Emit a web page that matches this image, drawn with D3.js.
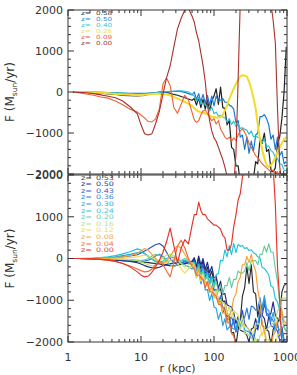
<!DOCTYPE html>
<html><head><meta charset="utf-8">
<script src="https://cdn.jsdelivr.net/npm/d3@7"></script>
<style>html,body{margin:0;padding:0;background:#fff;} svg{display:block;}</style>
</head><body>
<svg id="chart" width="297" height="375"></svg>
<script>
// radius grid (kpc)
const rGrid = [1.17,1.41,1.78,2.24,2.82,3.55,4.47,5.62,7.08,8.91,10.0,11.2,12.6,14.1,15.8,17.8,20.0,22.4,25.1,28.2,31.6,35.5,39.8,44.7,50.1,
53.7,57.5,61.7,66.1,70.8,75.9,81.3,87.1,93.3,100,107,115,123,132,141,151,162,174,186,200,214,229,245,263,282,302,324,347,372,398,427,457,490,525,562,603,646,692,741,794,851,912,977];

// ---- top panel ----
const topLabels = ["0.58","0.50","0.40","0.26","0.09","0.00"];
const topColors = ["#222222","#1a7ad4","#22c0d4","#f2dc26","#f06030","#a8302a"];
const topText   = ["#333333","#2a86d6","#38c6d8","#f0e050","#f0603a","#a83a30"];
const top_z058 = [0,-5,-10,-20,-30,-45,-60,-80,-90,-95,-90,-80,-60,-40,-20,-5,0,-10,-30,-60,-80,-110,-140,-170,-200,
-160,-320,-140,-380,-180,-420,-200,-460,-220,-100,80,-300,120,-380,-400,-800,-700,-1350,-1400,-1800,
-1800,-2200,-2100,-2250,-2150,-2200,-2100,-2100,-1700,-1750,-1150,-1250,-1000,-1450,-1400,-1900,-1950,-1850,-1250,-1100,-650,0,1100];
const top_z050 = [0,0,0,-5,-10,-15,-20,-25,-30,-35,-35,-30,-25,-20,-15,-10,-5,0,10,15,20,10,-10,-40,-70,
0,-180,-40,-240,-60,-280,-80,-320,-100,-340,-100,-220,-200,-160,-250,-250,-320,-350,-420,-750,
-700,-1100,-1050,-1400,-1100,-1500,-1200,-1450,-1050,-1000,-600,-600,-550,-650,-800,-1150,-1050,-1400,-1100,-1550,-1450,-1750,-1700];
const top_z040 = [0,0,0,-5,-10,-15,-20,-30,-40,-50,-50,-45,-40,-30,-20,-10,0,10,20,20,25,30,20,0,-60,
-100,-220,-130,-290,-270,-310,-350,-450,-370,-530,-490,-590,-570,-610,-630,-730,-650,-790,-710,-850,
-770,-890,-870,-910,-930,-1030,-950,-1090,-1070,-1110,-1120,-1230,-1150,-1330,-1310,-1430,-1470,-1590,-1620,-1750,-1770,-1910,-1920];
const top_z026 = [0,0,-5,-10,-20,-30,-50,-60,-70,-80,-80,-70,-60,-50,-40,-40,-50,-60,-80,-120,-160,-200,-240,-290,-340,
-400,-440,-470,-500,-500,-520,-550,-580,-600,-610,-620,-620,-610,-560,-450,-330,-170,-40,80,200,
300,380,410,400,380,250,80,-150,-400,-800,-1150,-1400,-1620,-1780,-1830,-1780,-1700,-1600,-1450,-1350,-1250,-1150,-1100];
const top_z009 = [0,-20,-50,-80,-120,-150,-220,-310,-420,-490,-560,-630,-720,-730,-660,-420,200,340,150,-380,-520,-300,-80,-200,-500,
-680,-740,-700,-560,-460,-440,-520,-620,-700,-650,-780,-700,-900,-1000,-1100,-1150,-1100,-1200,-1120,-1180,
-1050,-950,-900,-980,-1100,-1250,-1350,-1450,-1550,-1600,-1680,-1750,-1800,-1850,-1900,-1950,-1900,-2000,-1950,-2050,-2100,-2100,-2150];
const top_z000 = [0,-10,-20,-40,-70,-105,-140,-220,-360,-530,-800,-1020,-1050,-1020,-780,-480,-50,350,640,1100,1540,1800,2000,2040,1850,
1700,1450,1250,950,650,250,-300,-700,-950,-1120,-1200,-1350,-1500,-1650,-1830,-2050,-2250,-2350,-2300,-1500,
300,2200,2700,2800,2800,2800,2800,2800,2800,2800,2800,2800,2800,2800,2800,2150,1750,1200,-390,-1800,-2300,-2500,-2500];
const topSeries = [top_z058, top_z050, top_z040, top_z026, top_z009, top_z000];
const topWidths = [1.2, 1.2, 1.1, 2, 1.1, 1.1];

// ---- bottom panel ----
const botLabels = ["0.53","0.50","0.43","0.36","0.30","0.24","0.20","0.16","0.12","0.08","0.04","0.00"];
const botColors = ["#2a2a2a","#1e2c8c","#2a4ec8","#2a78dc","#22a2e2","#20c2d6","#66cc9e","#b8e070","#f0dc50","#f6a030","#f06a3c","#e63228"];
const botText   = ["#444444","#2a3a9a","#3a5ad0","#3a84de","#38a6e0","#38c4dc","#70d0b0","#bce488","#eedc68","#f2b050","#f07848","#e84038"];
const bot_z053 = [0,0,-5,-10,-20,-30,-40,-50,-60,-70,-80,-90,-100,-110,-120,-130,-150,-160,-170,-180,-160,-140,-120,-100,-100,
0,-200,0,-250,-50,-350,-200,-450,-300,-600,-420,-780,-720,-1030,-1020,-1380,-1370,-1780,-1770,-2080,
-1700,-1500,-900,-700,-200,-600,-150,-800,-850,-1400,-1100,-1600,-1650,-1700,-1750,-2100,-1700,-1600,-1550,-1400,-800,-650,-600];
const bot_z050 = [0,0,-5,-10,-15,-25,-35,-50,-70,-100,-130,-170,-200,-220,-230,-210,-170,-140,-120,-110,-100,-110,-120,-100,-60,
20,-180,60,-160,0,-260,-90,-340,-190,-460,-460,-710,-540,-860,-840,-1110,-1140,-1160,-1290,-1560,
-1390,-1710,-1740,-1760,-1840,-2010,-1690,-1660,-1440,-1710,-1340,-1360,-1440,-1710,-1390,-1310,-1040,-1360,-1440,-1460,-1640,-1960,-1940];
const bot_z043 = [0,0,0,0,5,10,20,40,60,90,130,180,230,280,330,360,300,150,0,-100,-150,-120,-80,-100,-150,
-40,-310,-90,-360,-140,-460,-290,-610,-440,-760,-740,-1010,-1040,-1310,-1140,-1460,-1440,-1410,-1540,-1760,
-1490,-1510,-1240,-1560,-1640,-1710,-1790,-1960,-1690,-1660,-1390,-1360,-1090,-1310,-1340,-1610,-1640,-1660,-1740,-1960,-1940,-2160,-1990];
const bot_z036 = [0,0,0,-5,-10,-15,-20,-30,-40,-50,-60,-60,-40,0,60,100,50,-50,-150,-180,-150,-100,-60,-80,-120,
-90,-120,-140,-160,-240,-310,-340,-410,-540,-760,-790,-1060,-890,-1210,-1240,-1310,-1390,-1660,-1440,-1760,
-1540,-1510,-1490,-1410,-1190,-1460,-1140,-1160,-1240,-1210,-940,-1260,-990,-1360,-1390,-1410,-1490,-1760,-1540,-1860,-1690,-1960,-1940];
const bot_z030 = [0,0,0,5,10,20,40,70,100,140,150,120,60,0,-50,-80,-100,-80,-50,-30,-50,-100,-150,-200,-250,
-240,-460,-290,-610,-440,-760,-740,-1010,-840,-1160,-1190,-1460,-1290,-1610,-1440,-1710,-1640,-1660,-1690,-1710,
-1440,-1660,-1390,-1710,-1740,-1760,-1840,-1860,-1590,-1560,-1240,-1160,-890,-1210,-1240,-1510,-1290,-1610,-1640,-1710,-1790,-2010,-1990];
const bot_z024 = [0,0,5,10,20,40,70,110,160,230,200,120,40,-20,-80,-100,-60,0,40,20,-20,-60,-40,-80,-120,
-90,-310,-140,-410,-240,-510,-340,-610,-440,-660,-390,-360,-40,-60,210,40,310,90,360,140,
340,290,310,240,260,190,210,140,110,40,10,-210,-240,-310,-390,-660,-690,-960,-1040,-1260,-1340,-1660,-1740];
const bot_z020 = [0,0,0,0,0,-5,-10,-20,-30,-40,-50,-30,0,60,100,80,20,-60,-150,-200,-150,-50,0,-50,-120,
-150,-350,-200,-450,-300,-500,-450,-650,-500,-700,-550,-800,-650,-850,-650,-650,-450,-700,-500,-500,
-300,-350,-350,-300,-100,-300,-50,-50,-50,-150,100,100,300,150,350,150,150,-250,-550,-1050,-1250,-1650,-1750];
const bot_z016 = [0,0,0,0,0,-5,-10,-20,-30,-50,-80,-120,-150,-180,-150,-80,20,80,100,60,-20,-120,-200,-150,-100,
-150,-350,-350,-400,-450,-600,-600,-650,-700,-900,-750,-1000,-1000,-1050,-1100,-1300,-1150,-1400,-1400,-1450,
-1500,-1700,-1550,-1800,-1800,-1850,-1850,-2050,-1900,-2100,-1850,-1800,-1750,-1700,-1650,-1600,-1550,-1500,-1250,-1200,-950,-950,-950];
const bot_z012 = [0,0,0,0,0,0,5,10,20,40,60,80,60,20,-30,-80,-120,-100,-50,0,-100,-250,-350,-250,-150,
-250,-450,-300,-550,-400,-650,-650,-700,-750,-950,-800,-1050,-1050,-1250,-1100,-1350,-1350,-1400,-1250,-1300,
-1350,-1550,-1400,-1650,-1650,-1700,-1750,-1800,-1550,-1550,-1600,-1850,-1650,-1950,-1950,-2000,-2050,-2050,-1850,-1800,-1550,-1550,-1600];
const bot_z008 = [0,0,0,0,5,10,20,40,70,120,180,240,200,100,0,-80,-120,-60,50,200,300,250,100,-50,-150,
-200,-400,-250,-500,-500,-550,-600,-800,-650,-900,-950,-1000,-1100,-1300,-1300,-1550,-1350,-1250,-950,-850,
-550,-450,-150,-150,50,-100,100,-150,-300,-750,-1050,-1550,-1750,-2050,-2150,-2150,-1850,-1750,-1450,-1450,-1250,-1500,-1550];
const bot_z004 = [0,0,-5,-10,-20,-40,-70,-120,-180,-250,-290,-320,-310,-250,-150,-50,-150,-300,-440,-100,300,440,250,0,-200,
-250,-400,-400,-450,-500,-700,-550,-800,-800,-850,-900,-1100,-1100,-1150,-1250,-1500,-1550,-1800,-1850,-2100,
-2200,-2300,-2200,-2250,-2300,-2200,-2300,-2250,-2300,-2200,-2250,-2300,-2200,-2200,-2300,-2200,-2300,-2200,-2250,-2300,-2200,-2250,-2300];
const bot_z000 = [0,0,-5,-10,-20,-40,-70,-120,-200,-320,-400,-440,-420,-330,-200,-50,150,400,730,300,-100,250,450,350,800,
1050,1050,1350,1150,1050,1050,950,900,850,800,800,750,700,550,500,200,200,350,750,1050,
1400,1550,1950,2200,2800,2800,2800,2800,2800,2800,2800,2800,2800,2800,2800,2600,2200,1300,-200,-1000,-2100,-2400,-2400];
const botSeries = [bot_z053, bot_z050, bot_z043, bot_z036, bot_z030, bot_z024, bot_z020, bot_z016, bot_z012, bot_z008, bot_z004, bot_z000];

const xTickValues = [1, 10, 100, 1000];
const xTickLabels = ["1", "10", "100", "1000"];
const yTickValues = [2000, 1000, 0, -1000, -2000];
const yTickLabels = ["2000", "1000", "0", "\u22121000", "\u22122000"];

// ---- drawing ----
const svg = d3.select("#chart");
const X0 = 68, X1 = 287;
const x = d3.scaleLog().domain([1, 1000]).range([X0, X1]);
const FONT = "DejaVu Sans, Liberation Sans, sans-serif";
const axisColor = "#333";

const panels = [
  {y0: 10, y1: 174, series: topSeries, colors: topColors, text: topText, labels: topLabels, widths: topWidths, legTop: 13.3, legStep: 5.9, legFont: 5.6, xLabels: false},
  {y0: 175, y1: 342, series: botSeries, colors: botColors, text: botText, labels: botLabels, widths: null, legTop: 177.3, legStep: 6.6, legFont: 6.2, xLabels: true}
];

panels.forEach((p, pi) => {
  const y = d3.scaleLinear().domain([-2000, 2000]).range([p.y1, p.y0]);
  const g = svg.append("g");
  const cid = "clip" + pi;
  svg.append("clipPath").attr("id", cid).append("rect")
    .attr("x", X0).attr("y", p.y0).attr("width", X1 - X0).attr("height", p.y1 - p.y0);

  const line = d3.line().x((d, i) => x(rGrid[i])).y(d => y(d));
  const lg = g.append("g").attr("clip-path", `url(#${cid})`);
  p.series.forEach((s, i) => {
    lg.append("path").attr("d", line(s)).attr("fill", "none")
      .attr("stroke", p.colors[i]).attr("stroke-width", p.widths ? p.widths[i] : 1.15)
      .attr("stroke-linejoin", "round");
  });

  // frame
  g.append("rect").attr("x", X0).attr("y", p.y0).attr("width", X1 - X0).attr("height", p.y1 - p.y0)
    .attr("fill", "none").attr("stroke", axisColor).attr("stroke-width", 1);

  // y ticks
  const yMinor = d3.range(-2000, 2001, 200).filter(v => v % 1000 !== 0);
  yTickValues.forEach(v => {
    g.append("line").attr("x1", X0).attr("x2", X0 + 6).attr("y1", y(v)).attr("y2", y(v)).attr("stroke", axisColor);
    g.append("line").attr("x1", X1).attr("x2", X1 - 6).attr("y1", y(v)).attr("y2", y(v)).attr("stroke", axisColor);
  });
  yMinor.forEach(v => {
    g.append("line").attr("x1", X0).attr("x2", X0 + 3).attr("y1", y(v)).attr("y2", y(v)).attr("stroke", axisColor);
    g.append("line").attr("x1", X1).attr("x2", X1 - 3).attr("y1", y(v)).attr("y2", y(v)).attr("stroke", axisColor);
  });
  // x ticks
  xTickValues.forEach(v => {
    g.append("line").attr("x1", x(v)).attr("x2", x(v)).attr("y1", p.y1).attr("y2", p.y1 - 6).attr("stroke", axisColor);
    g.append("line").attr("x1", x(v)).attr("x2", x(v)).attr("y1", p.y0).attr("y2", p.y0 + 6).attr("stroke", axisColor);
  });
  [1, 10, 100].forEach(d => d3.range(2, 10).forEach(m => {
    const xv = x(d * m);
    g.append("line").attr("x1", xv).attr("x2", xv).attr("y1", p.y1).attr("y2", p.y1 - 3).attr("stroke", axisColor);
    g.append("line").attr("x1", xv).attr("x2", xv).attr("y1", p.y0).attr("y2", p.y0 + 3).attr("stroke", axisColor);
  }));

  // y tick labels
  yTickValues.forEach((v, i) => {
    g.append("text").attr("x", 63).attr("y", y(v)).attr("dy", "0.36em").attr("text-anchor", "end")
      .attr("font-family", FONT).attr("font-size", 11).attr("fill", axisColor).text(yTickLabels[i]);
  });

  // y title
  const t = g.append("text").attr("transform", `translate(14,${(p.y0 + p.y1) / 2}) rotate(-90)`)
    .attr("text-anchor", "middle").attr("font-family", FONT).attr("font-size", 12).attr("fill", axisColor);
  t.append("tspan").text("F (M");
  t.append("tspan").attr("font-size", 7.5).attr("dy", 2.5).text("sun");
  t.append("tspan").attr("dy", -2.5).text("/yr)");

  // legend (wide, short glyphs like the original)
  const leg = g.append("g").attr("transform", "translate(81,0) scale(1.3,1)");
  p.labels.forEach((lab, i) => {
    const ly = p.legTop + i * p.legStep;
    const lt = leg.append("text").attr("x", 0).attr("y", ly).attr("dy", "0.36em")
      .attr("font-family", FONT).attr("font-size", p.legFont).attr("fill", p.text[i]);
    lt.append("tspan").text("z=");
    lt.append("tspan").attr("x", 15 / 1.3).text(lab);
  });

  if (p.xLabels) {
    xTickValues.forEach((v, i) => {
      g.append("text").attr("x", x(v)).attr("y", 360.5).attr("text-anchor", "middle")
        .attr("font-family", FONT).attr("font-size", 11).attr("fill", axisColor).text(xTickLabels[i]);
    });
    g.append("text").attr("x", (X0 + X1) / 2).attr("y", 371.5).attr("text-anchor", "middle")
      .attr("font-family", FONT).attr("font-size", 11).attr("fill", axisColor).text("r (kpc)");
  }
});
</script>
</body></html>
